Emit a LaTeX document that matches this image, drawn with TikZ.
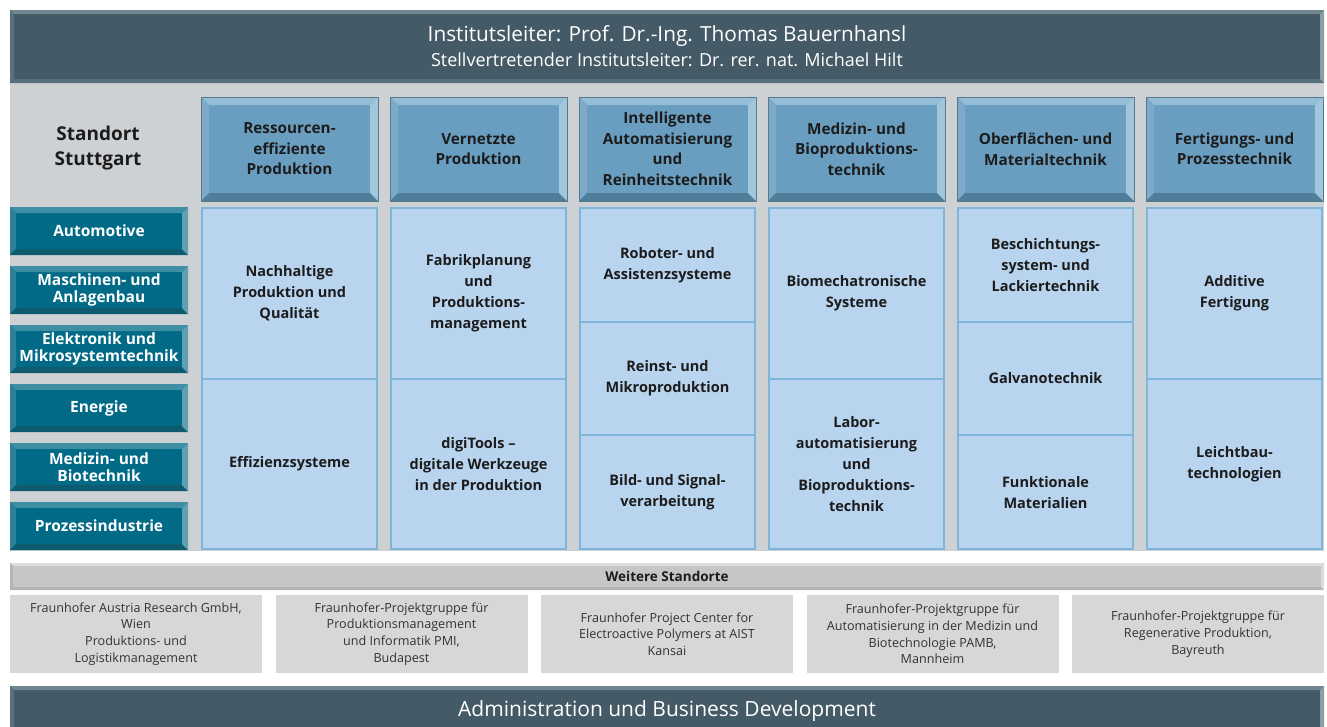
\documentclass[tikz,border=0pt]{standalone}
\usepackage{fontspec}
\setmainfont{Open Sans}
\usetikzlibrary{positioning}
\definecolor{slate}{HTML}{445A66}
\definecolor{slatetop}{HTML}{6F8690}
\definecolor{slateside}{HTML}{58717C}
\definecolor{slatelow}{HTML}{56707B}
\definecolor{slateright}{HTML}{8B9DA5}
\definecolor{fieldblue}{HTML}{6A9EC0}
\definecolor{fieldtop}{HTML}{94BDD6}
\definecolor{fieldside}{HTML}{7DAACA}
\definecolor{fieldlow}{HTML}{4F7E9B}
\definecolor{fieldright}{HTML}{A2C6DC}
\definecolor{fieldline}{HTML}{58788C}
\definecolor{branchteal}{HTML}{006A87}
\definecolor{branchtop}{HTML}{3F8FA4}
\definecolor{branchside}{HTML}{2C8099}
\definecolor{branchlow}{HTML}{0E5A6E}
\definecolor{branchright}{HTML}{5FA0B2}
\definecolor{cellblue}{HTML}{B8D4EE}
\definecolor{cellline}{HTML}{80B5DA}
\definecolor{panelgrey}{HTML}{CED1D4}
\definecolor{sitegrey}{HTML}{D6D7D9}
\definecolor{sitetext}{HTML}{333333}
\definecolor{bargrey}{HTML}{C6C6C8}
\definecolor{bartop}{HTML}{DCDCDE}
\definecolor{barside}{HTML}{B4B4B6}
\definecolor{textdark}{HTML}{1C1C1C}

\begin{document}
\begin{tikzpicture}[x=1pt,y=-1pt,
  bevel/.style n args={5}{path picture={
    \path (path picture bounding box.north west) coordinate (b1)
          (path picture bounding box.north east) coordinate (b2)
          (path picture bounding box.south east) coordinate (b3)
          (path picture bounding box.south west) coordinate (b4);
    \path (b1) ++(#1,-#1) coordinate (c1) (b2) ++(-#1,-#1) coordinate (c2)
          (b3) ++(-#1,#1) coordinate (c3) (b4) ++(#1,#1) coordinate (c4);
    \fill[#2] (b1) -- (b2) -- (c2) -- (c1) -- cycle;
    \fill[#3] (b1) -- (c1) -- (c4) -- (b4) -- cycle;
    \fill[#4] (b4) -- (c4) -- (c3) -- (b3) -- cycle;
    \fill[#5] (b2) -- (b3) -- (c3) -- (c2) -- cycle;
  }},
  box/.style={anchor=north west, inner sep=0pt, outer sep=0pt, align=center},
  head/.style={box, fill=slate, text=white, bevel={4pt}{slatetop}{slateside}{slatelow}{slateright}},
  field/.style={box, minimum width=177pt, minimum height=104pt, fill=fieldblue,
    draw=fieldline, line width=0.6pt, bevel={8pt}{fieldtop}{fieldside}{fieldlow}{fieldright},
    text=textdark, font=\bfseries\fontsize{15.3}{20.5}\selectfont},
  branch/.style={box, minimum width=178pt, minimum height=48pt, fill=branchteal,
    bevel={6pt}{branchtop}{branchside}{branchlow}{branchright},
    text=white, font=\bfseries\fontsize{15.5}{17}\selectfont},
  cell/.style={box, minimum width=175pt, fill=cellblue, draw=cellline, line width=2pt,
    text=textdark, font=\bfseries\fontsize{14.5}{21}\selectfont},
  twocell/.style={cell, minimum height=170.5pt},
  threecell/.style={cell, minimum height=113.7pt},
  site/.style={box, minimum width=252pt, minimum height=78pt, fill=sitegrey,
    text=sitetext, font=\fontsize{12.6}{16.7}\selectfont},
]
\useasboundingbox (0,0) rectangle (1327,726);
\fill[panelgrey] (10,83) rectangle (1324,551);

\node (leitung) [head, minimum width=1314pt, minimum height=73pt,
  font=\fontsize{18}{25}\selectfont] at (10,10)
  {{\fontsize{20.8}{25}\selectfont Institutsleiter: Prof. Dr.-Ing. Thomas Bauernhansl}\\
   {\fontsize{18}{25}\selectfont Stellvertretender Institutsleiter: Dr. rer. nat. Michael Hilt}};

\node (standort) [align=center, text=textdark, font=\bfseries\fontsize{19}{25}\selectfont]
  at (98,148) {Standort\\Stuttgart};

% Abteilungen
\node (ressourcen) [field] at (201,97) {Ressourcen-\\effiziente\\Produktion};
\node (vernetzt) [field] at (390,97) {Vernetzte\\Produktion};
\node (automat) [field] at (579,97) {Intelligente\\Automatisierung\\und\\Reinheitstechnik};
\node (medizin) [field] at (768,97) {Medizin- und\\Bioproduktions-\\technik};
\node (oberflaeche) [field] at (957,97) {Oberflächen- und\\Materialtechnik};
\node (fertigung) [field] at (1146,97) {Fertigungs- und\\Prozesstechnik};

% Branchen
\node (automotive) [branch] at (10,207) {Automotive};
\node (maschinen) [branch] at (10,266) {Maschinen- und\\Anlagenbau};
\node (elektronik) [branch] at (10,325) {Elektronik und\\Mikrosystemtechnik};
\node (energie) [branch] at (10,384) {Energie};
\node (biotechnik) [branch] at (10,443) {Medizin- und\\Biotechnik};
\node (prozess) [branch] at (10,502) {Prozessindustrie};

% Gruppen
\node (nachhaltig) [twocell] at (202,208) {Nachhaltige\\Produktion und\\Qualität};
\node (effizienz) [twocell] at (202,378.5) {Effizienzsysteme};
\node (fabrik) [twocell] at (391,208) {Fabrikplanung\\und\\Produktions-\\management};
\node (digitools) [twocell] at (391,378.5) {digiTools –\\digitale Werkzeuge\\in der Produktion};
\node (roboter) [threecell] at (580,208) {Roboter- und\\Assistenzsysteme};
\node (reinst) [threecell] at (580,321.7) {Reinst- und\\Mikroproduktion};
\node (bild) [threecell] at (580,435.4) {Bild- und Signal-\\verarbeitung};
\node (biomech) [twocell] at (769,208) {Biomechatronische\\Systeme};
\node (labor) [twocell] at (769,378.5) {Labor-\\automatisierung\\und\\Bioproduktions-\\technik};
\node (beschicht) [threecell] at (958,208) {Beschichtungs-\\system- und\\Lackiertechnik};
\node (galvano) [threecell] at (958,321.7) {Galvanotechnik};
\node (funktional) [threecell] at (958,435.4) {Funktionale\\Materialien};
\node (additiv) [twocell] at (1147,208) {Additive\\Fertigung};
\node (leichtbau) [twocell] at (1147,378.5) {Leichtbau-\\technologien};

% Weitere Standorte
\node (weitere) [box, minimum width=1314pt, minimum height=27pt, fill=bargrey, text=textdark,
  bevel={3pt}{bartop}{barside}{barside}{bartop}, font=\bfseries\fontsize{13.5}{16}\selectfont]
  at (10,563) {Weitere Standorte};
\node (wien) [site] at (10,595) {Fraunhofer Austria Research GmbH,\\Wien\\Produktions- und\\Logistikmanagement};
\node (budapest) [site] at (275.5,595) {Fraunhofer-Projektgruppe für\\Produktionsmanagement\\und Informatik PMI,\\Budapest};
\node (kansai) [site] at (541,595) {Fraunhofer Project Center for\\Electroactive Polymers at AIST\\Kansai};
\node (mannheim) [site] at (806.5,595) {Fraunhofer-Projektgruppe für\\Automatisierung in der Medizin und\\Biotechnologie PAMB,\\Mannheim};
\node (bayreuth) [site] at (1072,595) {Fraunhofer-Projektgruppe für\\Regenerative Produktion,\\Bayreuth};

\node (verwaltung) [head, minimum width=1314pt, minimum height=50pt,
  font=\fontsize{21}{25}\selectfont] at (10,686)
  {\raisebox{4pt}{Administration und Business Development}};
\end{tikzpicture}
\end{document}
